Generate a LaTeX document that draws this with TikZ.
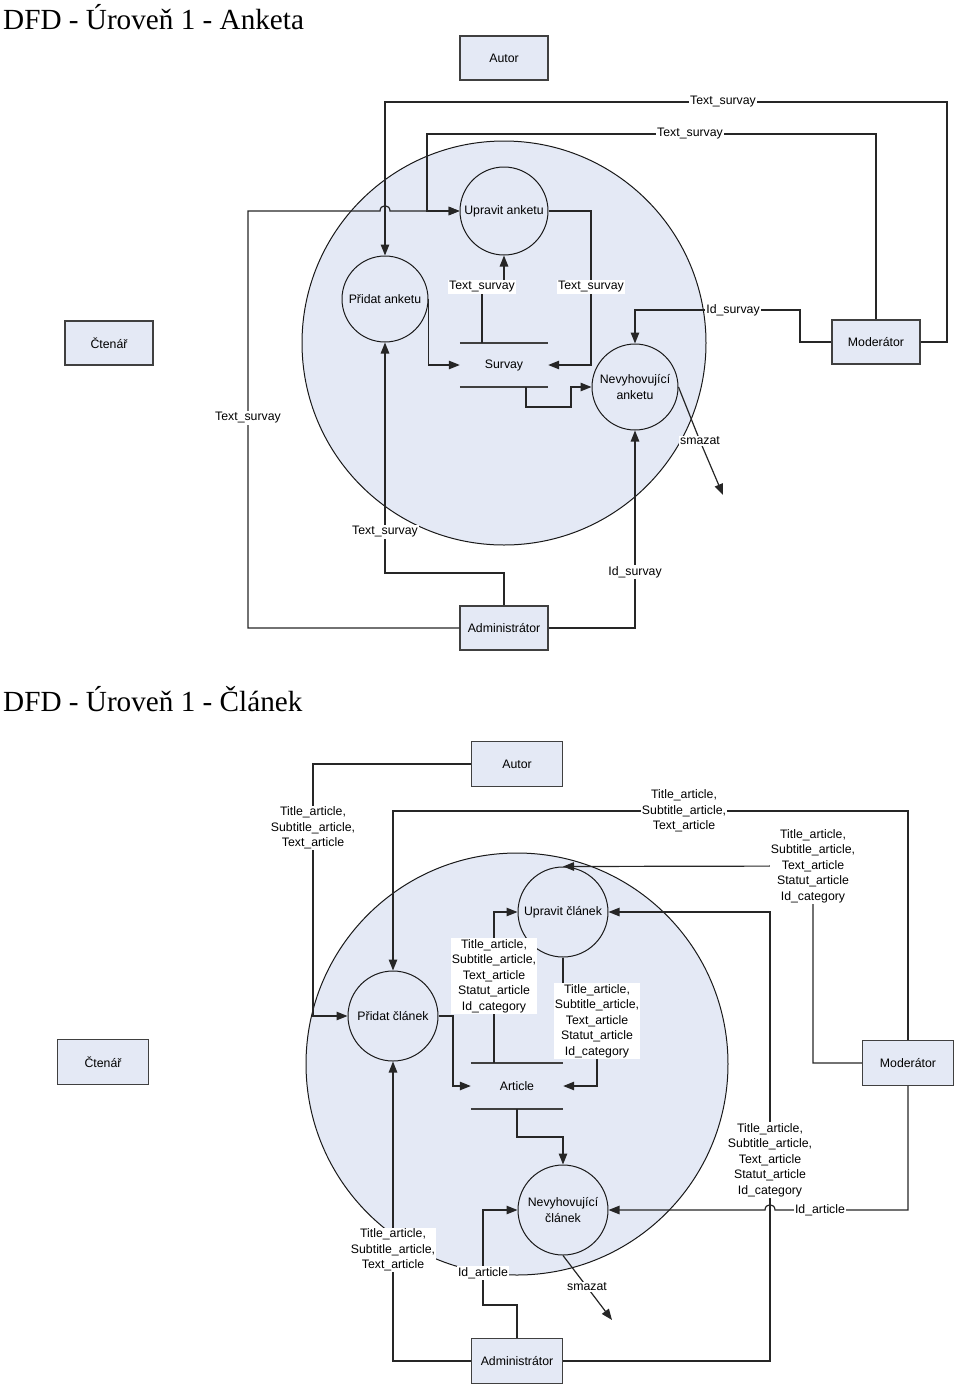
\documentclass[tikz,border=0pt]{standalone}
\usepackage{fontspec}
\setmainfont{Liberation Serif}
\setsansfont{Liberation Sans}
\usetikzlibrary{arrows.meta}
\definecolor{dfdblue}{RGB}{228,233,245}
\tikzset{
  ent/.style={rectangle, draw=black!75, line width=1.3pt, fill=dfdblue, minimum width=88pt, minimum height=44pt, inner sep=0pt},
  proc/.style={circle, draw=black!90, line width=1pt, fill=dfdblue, minimum size=88pt, inner sep=0pt, align=center},
  area/.style={circle, draw=black!90, line width=1pt, fill=dfdblue, inner sep=0pt},
  store/.style={rectangle, minimum width=88pt, minimum height=44pt, inner sep=0pt},
  storeline/.style={draw=black!75, line width=1.6pt},
  flow/.style={draw=black!85, line width=1.2pt, -{Triangle[length=11pt,width=8.5pt]}},
  lbl/.style={fill=white, inner sep=1.2pt, align=center},
  heading/.style={font=\rmfamily\fontsize{29.2}{32}\selectfont, anchor=base west, inner sep=0pt}
}
\begin{document}
\begin{tikzpicture}[x=1pt, y=-1pt, font=\sffamily\fontsize{12.3}{15.5}\selectfont]
\useasboundingbox (0,0) rectangle (960,1387);

% Anketa
\node[heading] (title1) at (3,29) {DFD - Úroveň 1 - Anketa};
\node[area, minimum size=404pt] (sys1) at (504,343) {};
\node[ent] (autor1) at (504,58) {Autor};
\node[ent] (ctenar1) at (109,343) {Čtenář};
\node[ent] (moder1) at (876,342) {Moderátor};
\node[ent] (admin1) at (504,628) {Administrátor};
\node[proc] (upravit1) at (504,211) {Upravit anketu};
\node[proc, minimum size=86pt] (pridat1) at (385,299) {Přidat anketu};
\node[proc, minimum size=86pt] (nevyh1) at (635,387) {Nevyhovující\\anketu};
\node[store] (survay) at (504,365) {Survay};
\draw[storeline] (survay.north west) -- (survay.north east)
  (survay.south west) -- (survay.south east);
\coordinate (smazat1) at (723,495);

\draw[flow] (moder1.east) -- (947,342) -- (947,102) -- (723,102) node[lbl] {Text\_survay} -| (pridat1.north);
\draw[flow] (moder1.north) |- (690,134) node[lbl] {Text\_survay} -| (427,211) -- (upravit1.west);
\draw[flow] (moder1.west) -| (800,310) -- (733,310) node[lbl] {Id\_survay} -| (nevyh1.north);
\draw[flow] (admin1.west) -| (248,418) node[lbl] {Text\_survay} |- (380,211)
  .. controls (380,204) and (390,204) .. (390,211) -- (upravit1.west);
\draw[flow] (admin1.north) |- (385,573) -- (385,532) node[lbl] {Text\_survay} -- (pridat1.south);
\draw[flow] (admin1.east) -| (635,572) node[lbl] {Id\_survay} -- (nevyh1.south);
\draw[flow] (pridat1.east) |- (survay.west);
\draw[flow] (upravit1.east) -| (591,287) node[lbl] {Text\_survay} |- (survay.east);
\draw[flow] ([xshift=-22pt]survay.north) -- (482,287) node[lbl] {Text\_survay} -- (504,287) -- (upravit1.south);
\draw[flow] ([xshift=22pt]survay.south) |- (571,407) |- (nevyh1.west);
\draw[flow] (nevyh1.east) -- (700,441) node[lbl] {smazat} -- (smazat1);

% Clanek
\node[heading] (title2) at (3,711) {DFD - Úroveň 1 - Článek};
\node[area, minimum size=422pt] (sys2) at (517,1064) {};
\node[ent, minimum width=91pt, minimum height=45pt] (autor2) at (517,764) {Autor};
\node[ent, minimum width=91pt, minimum height=45pt] (ctenar2) at (103,1062) {Čtenář};
\node[ent, minimum width=91pt, minimum height=45pt] (moder2) at (908,1063) {Moderátor};
\node[ent, minimum width=91pt, minimum height=45pt] (admin2) at (517,1361) {Administrátor};
\node[proc, minimum size=90pt] (upravit2) at (563,912) {Upravit článek};
\node[proc, minimum size=90pt] (pridat2) at (393,1016) {Přidat článek};
\node[proc, minimum size=90pt] (nevyh2) at (563,1210) {Nevyhovující\\článek};
\node[store, minimum width=92pt, minimum height=46pt] (article) at (517,1086) {Article};
\draw[storeline] (article.north west) -- (article.north east)
  (article.south west) -- (article.south east);
\coordinate (smazat2) at (612,1320);

\draw[flow] (autor2.west) -| (313,828) node[lbl] {Title\_article,\\Subtitle\_article,\\Text\_article} |- (pridat2.west);
\draw[flow] (moder2.north) |- (684,811) node[lbl] {Title\_article,\\Subtitle\_article,\\Text\_article} -| (pridat2.north);
\draw[flow] (moder2.west) -| (813,866) node[lbl] {Title\_article,\\Subtitle\_article,\\Text\_article\\Statut\_article\\Id\_category} -- (upravit2.north);
\draw[flow] (admin2.east) -| (770,1160) node[lbl] {Title\_article,\\Subtitle\_article,\\Text\_article\\Statut\_article\\Id\_category} |- (upravit2.east);
\draw[flow] (moder2.south) |- (820,1210) node[lbl] {Id\_article} -- (775,1210)
  .. controls (775,1203) and (765,1203) .. (765,1210) -- (nevyh2.east);
\draw[flow] (admin2.north) |- (483,1305) -- (483,1273) node[lbl] {Id\_article} |- (nevyh2.west);
\draw[flow] (admin2.west) -| (393,1250) node[lbl] {Title\_article,\\Subtitle\_article,\\Text\_article} -- (pridat2.south);
\draw[flow] (pridat2.east) -| (453,1086) -- (article.west);
\draw[flow] (upravit2.south) -- (563,1021) -- (597,1021) node[lbl] {Title\_article,\\Subtitle\_article,\\Text\_article\\Statut\_article\\Id\_category} |- (article.east);
\draw[flow] ([xshift=-23pt]article.north) -- (494,976) node[lbl] {Title\_article,\\Subtitle\_article,\\Text\_article\\Statut\_article\\Id\_category} |- (upravit2.west);
\draw[flow] (article.south) |- (563,1137) -- (nevyh2.north);
\draw[flow] (nevyh2.south) -- (587,1287) node[lbl] {smazat} -- (smazat2);
\end{tikzpicture}
\end{document}
